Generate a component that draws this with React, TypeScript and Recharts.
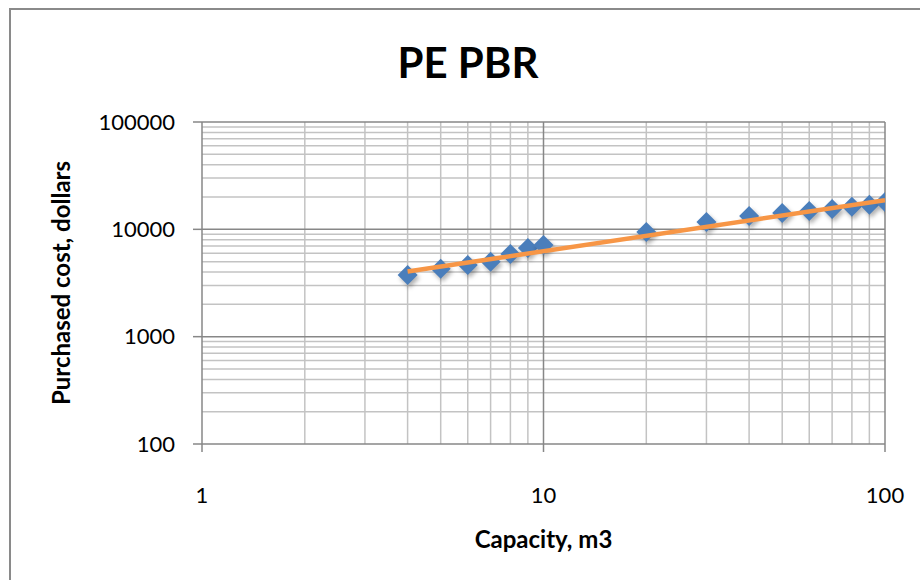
import {
  ReferenceLine,
  Scatter,
  ScatterChart,
  XAxis,
  YAxis
} from "recharts";

// measured points
const capacity = [4, 5, 6, 7, 8, 9, 10, 20, 30, 40, 50, 60, 70, 80, 90, 100];
const cost = [3750, 4300, 4650, 5000, 5900, 6700, 7150, 9450, 11700, 13300, 14200, 14850, 15500, 16200, 16900, 18000];

// power trend line (straight on log-log), end points
const trendCapacity = [4, 100];
const trendCost = [4050, 18700];

const xTicks = [1, 10, 100];
const yTicks = [100, 1000, 10000, 100000];
const minorX = [2, 3, 4, 5, 6, 7, 8, 9, 20, 30, 40, 50, 60, 70, 80, 90];
const majorX = [10, 100];
const minorY = [
  200, 300, 400, 500, 600, 700, 800, 900,
  2000, 3000, 4000, 5000, 6000, 7000, 8000, 9000,
  20000, 30000, 40000, 50000, 60000, 70000, 80000, 90000
];
const majorY = [1000, 10000, 100000];

const FONT = "Lato, 'Open Sans', sans-serif";
const MAJOR = "#878787";
const MINOR = "#c3c3c3";

const points = capacity.map((c, i) => ({ x: c, y: cost[i] }));
const trend = trendCapacity.map((c, i) => ({ x: c, y: trendCost[i] }));

function Diamond(props: any) {
  const { cx, cy } = props;
  if (cx == null || cy == null) return <g />;
  const r = 10;
  return (
    <path
      d={`M${cx},${cy - r}L${cx + r},${cy}L${cx},${cy + r}L${cx - r},${cy}Z`}
      fill="#4a7ebb"
      style={{ filter: "drop-shadow(2px 3px 2px rgba(0,0,0,0.3))" }}
    />
  );
}

export default function App() {
  return (
    <div
      style={{
        position: "fixed",
        left: 0,
        top: 0,
        width: 920,
        height: 580,
        overflow: "hidden",
        background: "#fff",
        fontFamily: FONT
      }}
    >
      <div
        style={{
          position: "absolute",
          left: 9,
          top: 8,
          width: 940,
          height: 600,
          border: "2px solid #8a8a8a",
          boxSizing: "border-box"
        }}
      />
      <div
        style={{
          position: "absolute",
          left: 0,
          top: 34,
          width: 936,
          textAlign: "center",
          fontSize: 42,
          fontWeight: 700,
          lineHeight: "56px",
          color: "#000"
        }}
      >
        PE PBR
      </div>
      <div style={{ position: "absolute", left: 0, top: 0 }}>
        <ScatterChart
          width={920}
          height={580}
          margin={{ top: 122, right: 35, bottom: 0, left: 0 }}
        >
          {minorX.map((v) => (
            <ReferenceLine key={`mx${v}`} x={v} stroke={MINOR} strokeWidth={1.5} />
          ))}
          {minorY.map((v) => (
            <ReferenceLine key={`my${v}`} y={v} stroke={MINOR} strokeWidth={1.5} />
          ))}
          {majorX.map((v) => (
            <ReferenceLine key={`vx${v}`} x={v} stroke={MAJOR} strokeWidth={1.5} />
          ))}
          {majorY.map((v) => (
            <ReferenceLine key={`hy${v}`} y={v} stroke={MAJOR} strokeWidth={1.5} />
          ))}
          <XAxis
            type="number"
            dataKey="x"
            scale="log"
            domain={[1, 100]}
            ticks={xTicks}
            allowDataOverflow
            height={136}
            stroke={MAJOR}
            strokeWidth={1.5}
            tickSize={8}
            tickMargin={35}
            tick={{ fill: "#000", fontSize: 22, fontFamily: FONT }}
            label={{
              value: "Capacity, m3",
              position: "insideBottom",
              offset: 32,
              fill: "#000",
              fontSize: 24,
              fontWeight: 700,
              fontFamily: FONT
            }}
          />
          <YAxis
            type="number"
            dataKey="y"
            scale="log"
            domain={[100, 100000]}
            ticks={yTicks}
            allowDataOverflow
            width={202}
            stroke={MAJOR}
            strokeWidth={1.5}
            tickSize={9}
            tickMargin={18}
            tick={{ fill: "#000", fontSize: 22, fontFamily: FONT }}
            label={{
              value: "Purchased cost, dollars",
              angle: -90,
              position: "insideLeft",
              offset: 61,
              style: { textAnchor: "middle" },
              fill: "#000",
              fontSize: 24,
              fontWeight: 700,
              fontFamily: FONT
            }}
          />
          <Scatter
            data={points}
            shape={Diamond}
            isAnimationActive={false}
          />
          <Scatter
            data={trend}
            line={{ stroke: "#f79646", strokeWidth: 4.5 }}
            shape={() => <g />}
            isAnimationActive={false}
          />
        </ScatterChart>
      </div>
    </div>
  );
}
